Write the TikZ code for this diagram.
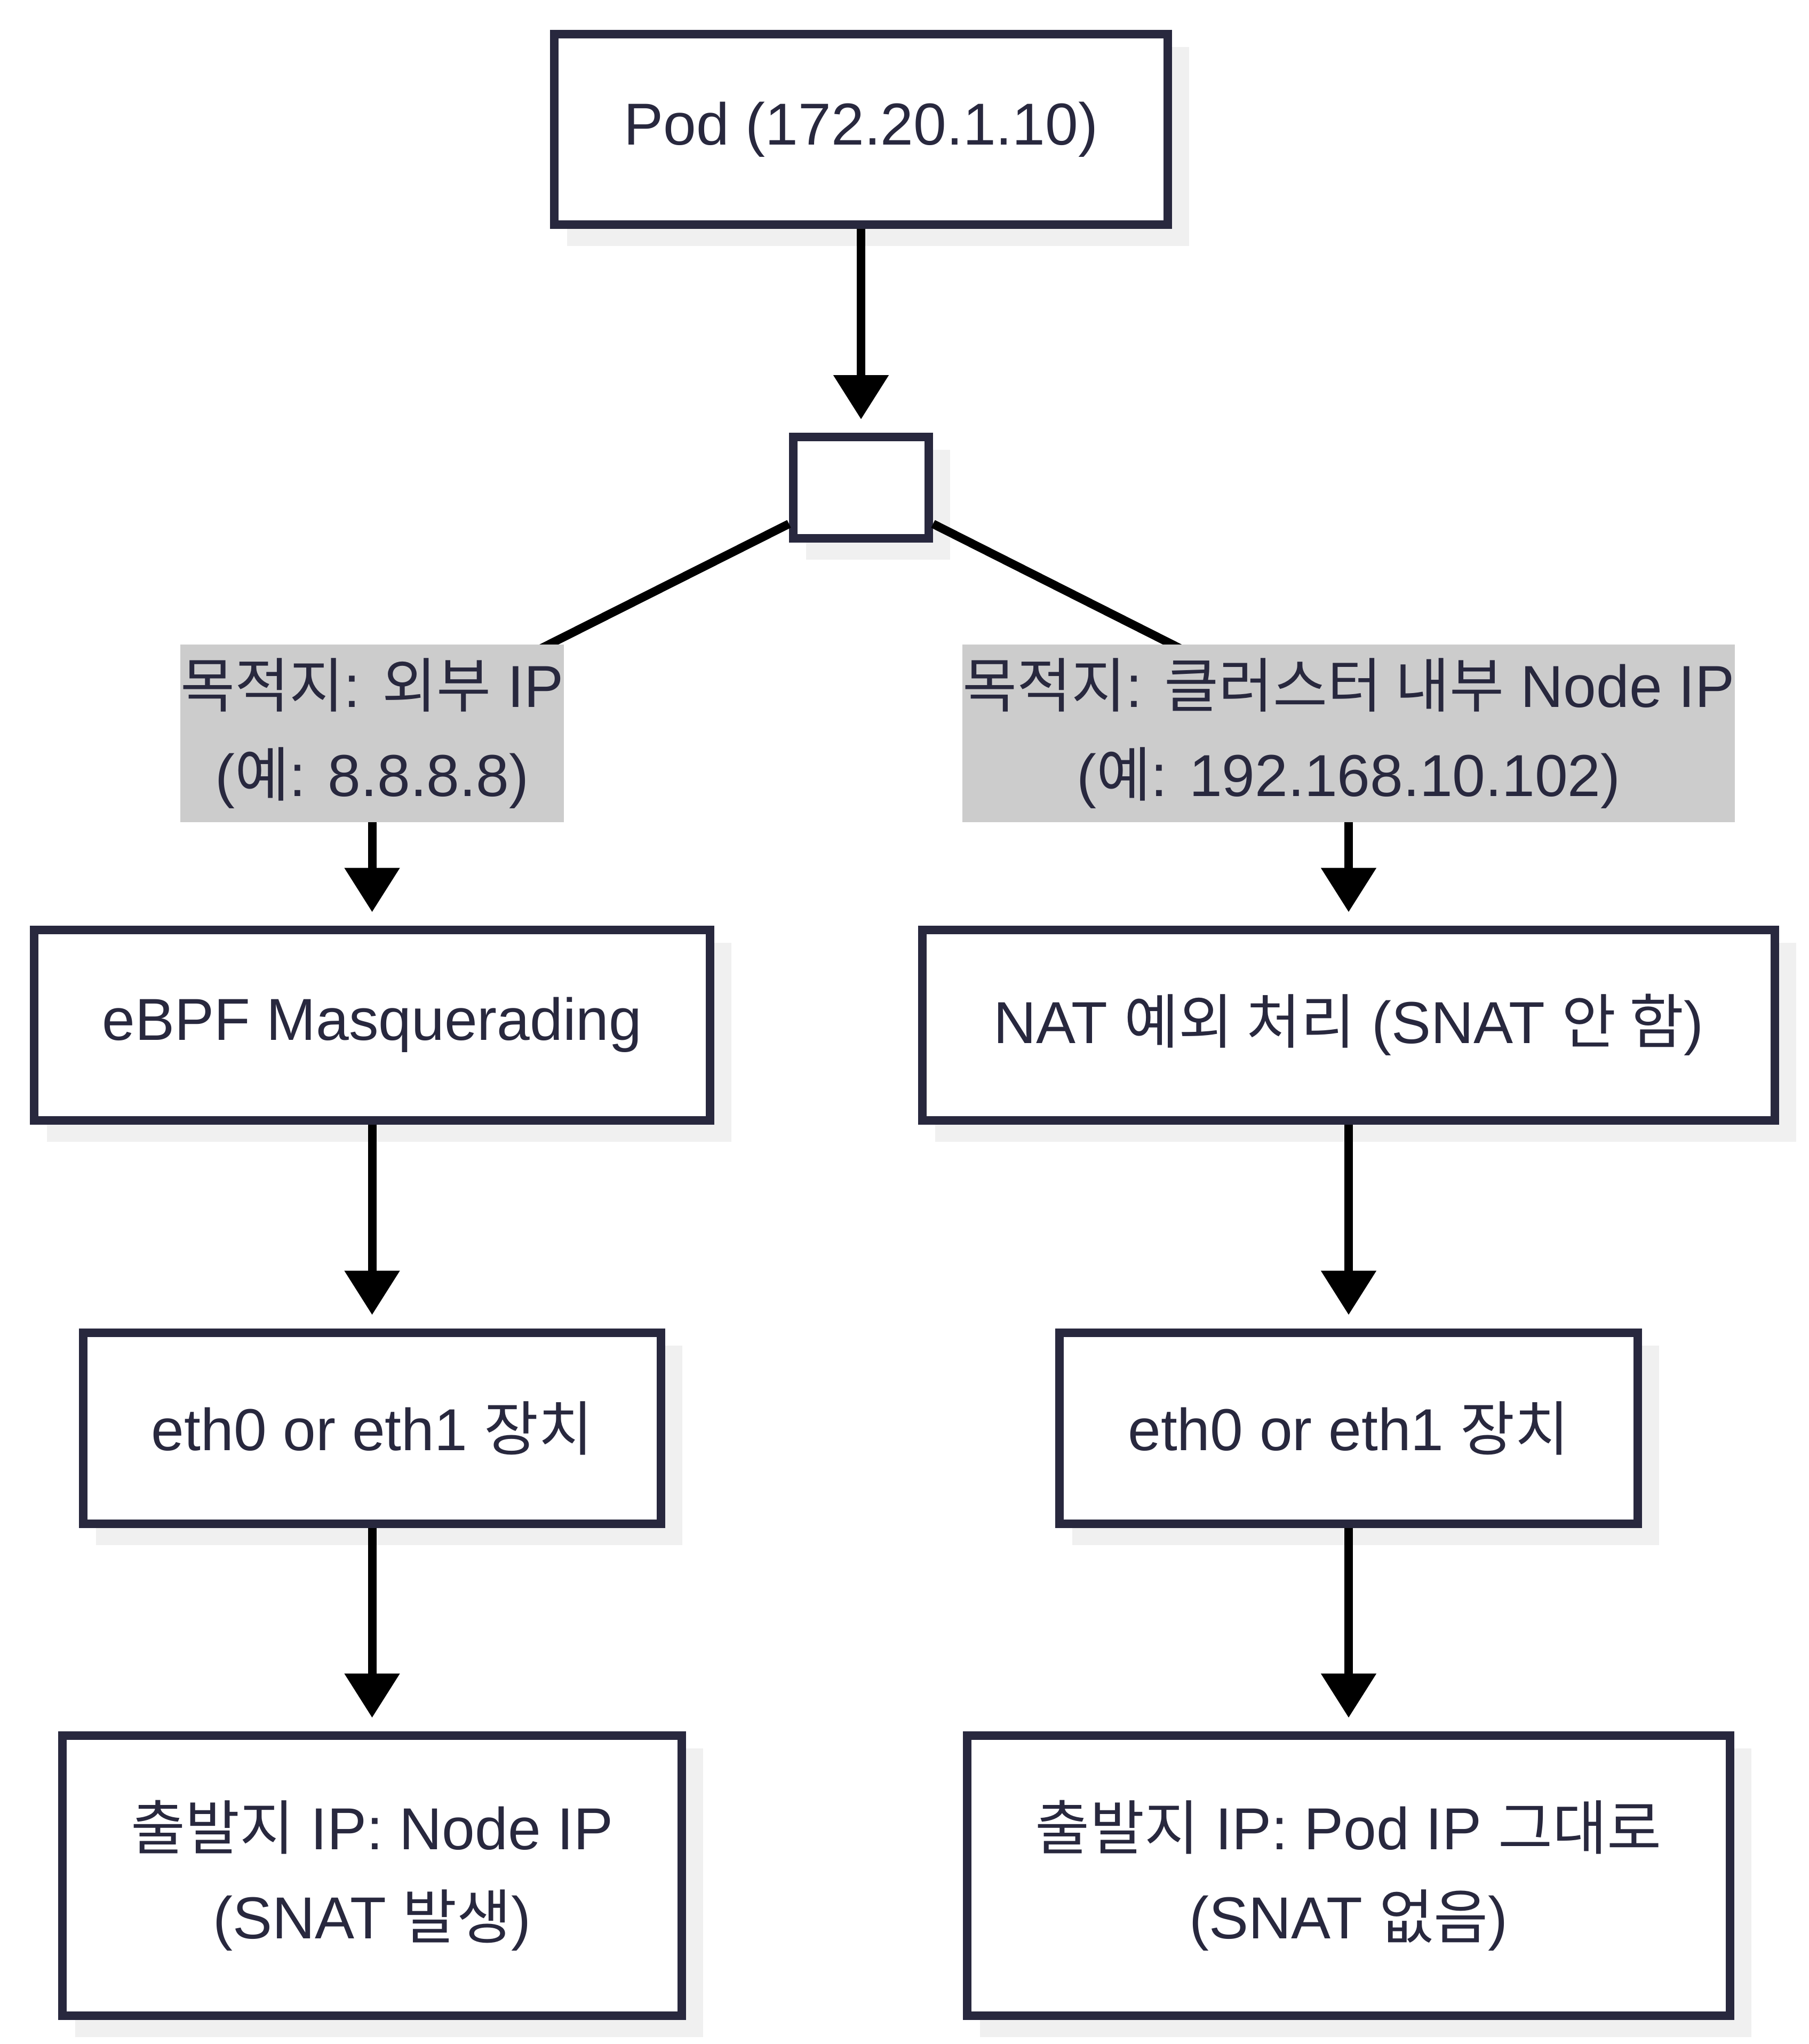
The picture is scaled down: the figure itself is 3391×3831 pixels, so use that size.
\documentclass[tikz,border=0pt]{standalone}
\usepackage{fontspec}
\setmainfont{Liberation Sans}
\newfontfamily\kr{Noto Sans CJK KR}
\usetikzlibrary{arrows.meta,shadows}
\definecolor{ink}{RGB}{40,40,62}
\definecolor{shade}{RGB}{240,240,240}
\definecolor{lblgray}{RGB}{204,204,204}
\pgfdeclarelayer{fg}
\pgfsetlayers{main,fg}
\newcommand\K[1]{{\kr #1}}
\begin{document}
\begin{tikzpicture}[x=0.1pt,y=-0.1pt,
  box/.style={draw=ink, line width=1.6pt, fill=white, text=ink, align=center, inner sep=0pt,
    font=\fontsize{11.1pt}{16.7pt}\selectfont,
    general shadow={fill=shade, draw=shade, line width=1.6pt, shadow xshift=3.2pt, shadow yshift=-3.2pt}},
  lbl/.style={fill=lblgray, text=ink, align=center, inner sep=0pt,
    font=\fontsize{11.1pt}{16.7pt}\selectfont},
  edge/.style={draw=black, line width=1.6pt},
  arr/.style={edge, -{Triangle[width=10pt,length=8.3pt]}, shorten >=2.5pt}]
\fill[white] (0,0) rectangle (3391,3831);
\useasboundingbox (0,0) rectangle (3391,3831);

\node[box, minimum width=115pt, minimum height=35.7pt] (pod) at (1614,243) {Pod (172.20.1.10)};
\node[box, minimum width=25.4pt, minimum height=19pt] (split) at (1614,914) {};

\node[box, minimum width=126.8pt, minimum height=35.7pt] (ebpf) at (697.5,1921) {eBPF Masquerading};
\node[box, minimum width=159.8pt, minimum height=35.7pt] (nat) at (2528,1921) {NAT \K{예외 처리} (SNAT \K{안 함})};

\node[box, minimum width=108.4pt, minimum height=35.8pt] (ethL) at (697.5,2676.5) {eth0 or eth1 \K{장치}};
\node[box, minimum width=108.4pt, minimum height=35.8pt] (ethR) at (2528,2676.5) {eth0 or eth1 \K{장치}};

\node[box, minimum width=116.1pt, minimum height=52.5pt] (srcL) at (697.5,3515) {\K{출발지} IP: Node IP\\(SNAT \K{발생})};
\node[box, minimum width=143pt, minimum height=52.5pt] (srcR) at (2528,3515) {\K{출발지} IP: Pod IP \K{그대로}\\(SNAT \K{없음})};

\begin{pgfonlayer}{fg}
\node[lbl, minimum width=70.7pt, minimum height=33.3pt] (lblL) at (697.5,1374.5) {\K{목적지}: \K{외부} IP\\(\K{예}: 8.8.8.8)};
\node[lbl, minimum width=144.7pt, minimum height=33.3pt] (lblR) at (2528,1374.5) {\K{목적지}: \K{클러스터 내부} Node IP\\(\K{예}: 192.168.10.102)};
\end{pgfonlayer}

\draw[arr] (pod) -- (split);
\draw[edge] (split) -- (lblL.center);
\draw[arr] (lblL.center) -- (ebpf);
\draw[edge] (split) -- (lblR.center);
\draw[arr] (lblR.center) -- (nat);
\draw[arr] (ebpf) -- (ethL);
\draw[arr] (nat) -- (ethR);
\draw[arr] (ethL) -- (srcL);
\draw[arr] (ethR) -- (srcR);
\end{tikzpicture}
\end{document}
